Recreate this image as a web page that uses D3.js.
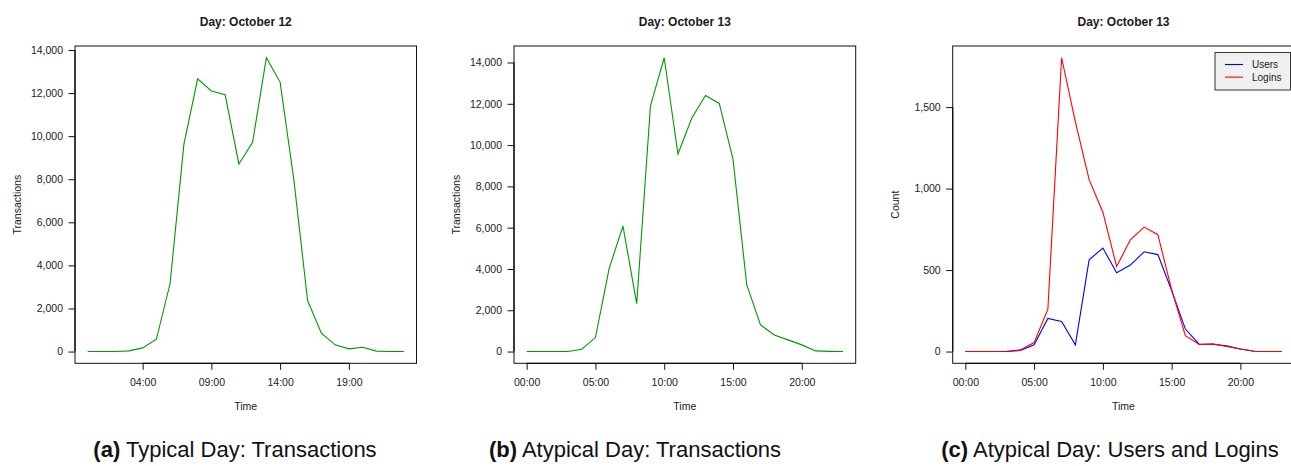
<!DOCTYPE html>
<html><head><meta charset="utf-8">
<script src="https://cdn.jsdelivr.net/npm/d3@7"></script>
<style>
body{margin:0;background:#fff;}
svg text{font-family:"Liberation Sans",Arial,sans-serif;fill:#1a1a1a;}
</style></head>
<body><svg id="c" width="1291" height="466"></svg>
<script>
// ---- data ----
const hours = d3.range(0, 24);
const txOct12 = [0,0,0,30,170,570,3170,9620,12660,12100,11920,8710,9720,13640,12510,7970,2370,850,310,125,200,20,0,0];
const txOct13 = [0,0,0,0,113,677,4030,6080,2320,11900,14230,9565,11300,12400,12016,9320,3230,1290,806,565,323,32,10,0];
const usersOct13 = [0,0,0,0,6,41,203,184,41,563,635,484,531,612,595,375,138,45,45,35,16,2,0,0];
const loginsOct13 = [0,0,0,2,10,55,260,1803,1410,1055,855,522,686,764,717,380,97,43,47,31,16,2,0,0];
const ticksA = [4,9,14,19];
const ticksBC = [0,5,10,15,20];
const yTicksTx = [0,2000,4000,6000,8000,10000,12000,14000];
const yTicksCount = [0,500,1000,1500];
const titles = ["Day: October 12","Day: October 13","Day: October 13"];
const yLabels = ["Transactions","Transactions","Count"];
const legendNames = ["Users","Logins"];
const captionTags = ["(a)","(b)","(c)"];
const captionTexts = [" Typical Day: Transactions"," Atypical Day: Transactions"," Atypical Day: Users and Logins"];

const svg = d3.select("#c");
const fmtH = h => d3.format("02d")(h) + ":00";
const fmtN = d3.format(",");
const plotTop = 46, plotBottom = 363.3;

const panels = [
  {left:75, right:416.5, xt:ticksA, yt:yTicksTx, series:[{v:txOct12,c:"#009a00"}]},
  {left:514, right:855.7, xt:ticksBC, yt:yTicksTx, series:[{v:txOct13,c:"#009a00"}]},
  {left:952.7, right:1294.3, xt:ticksBC, yt:yTicksCount, series:[{v:usersOct13,c:"#0000ff",n:legendNames[0]},{v:loginsOct13,c:"#ff0000",n:legendNames[1]}], legend:true}
];

panels.forEach((p,i)=>{
  const g = svg.append("g");
  const n = hours.length-1;
  const x = d3.scaleLinear().domain([-0.04*n, n+0.04*n]).range([p.left,p.right]);
  const all = p.series.flatMap(s=>s.v);
  const mn = d3.min(all), mx = d3.max(all), r = mx-mn;
  const y = d3.scaleLinear().domain([mn-0.04*r, mx+0.04*r]).range([plotBottom, plotTop]);

  p.series.forEach(s=>{
    g.append("path").datum(s.v)
      .attr("fill","none").attr("stroke",s.c).attr("stroke-width",1.1)
      .attr("d", d3.line().x((d,k)=>x(hours[k])).y(d=>y(d)));
  });

  g.append("rect").attr("x",p.left).attr("y",plotTop).attr("width",p.right-p.left).attr("height",plotBottom-plotTop)
    .attr("fill","none").attr("stroke","#111").attr("stroke-width",1);

  const ya = g.append("g").attr("transform",`translate(${p.left},0)`)
    .call(d3.axisLeft(y).tickValues(p.yt).tickFormat(fmtN).tickSize(6.5).tickPadding(5.5));
  ya.select(".domain").attr("d",`M0,${y(p.yt[0])}V${y(p.yt[p.yt.length-1])}`).attr("stroke","#111").attr("stroke-width",1.3);
  ya.selectAll("line").attr("stroke","#111");
  ya.selectAll("text").attr("font-size",10.5).attr("fill","#1a1a1a").style("font-family","Liberation Sans, Arial, sans-serif");

  const xa = g.append("g").attr("transform",`translate(0,${plotBottom})`)
    .call(d3.axisBottom(x).tickValues(p.xt).tickFormat(fmtH).tickSize(6.5).tickPadding(9));
  xa.select(".domain").attr("d",`M${x(p.xt[0])},0H${x(p.xt[p.xt.length-1])}`).attr("stroke","#111").attr("stroke-width",1.3);
  xa.selectAll("line").attr("stroke","#111");
  xa.selectAll("text").attr("font-size",10.5).attr("fill","#1a1a1a").style("font-family","Liberation Sans, Arial, sans-serif");

  const cx = (p.left + Math.min(p.right, p.left+341.6))/2;
  g.append("text").attr("x",cx).attr("y",26).attr("text-anchor","middle")
    .attr("font-size",12).attr("font-weight","bold").text(titles[i]);
  g.append("text").attr("x",cx).attr("y",410).attr("text-anchor","middle")
    .attr("font-size",10.5).text("Time");
  g.append("text").attr("transform",`translate(${p.left-54},${(plotTop+plotBottom)/2}) rotate(-90)`)
    .attr("text-anchor","middle").attr("font-size",10.5).text(yLabels[i]);

  if(p.legend){
    const lg = g.append("g");
    lg.append("rect").attr("x",1215).attr("y",52.5).attr("width",75.5).attr("height",37.5)
      .attr("fill","#f0f0f0").attr("stroke","#333").attr("stroke-width",1);
    p.series.forEach((s,k)=>{
      const ly = 64.5 + k*12.6;
      lg.append("line").attr("x1",1225).attr("x2",1243).attr("y1",ly).attr("y2",ly).attr("stroke",s.c).attr("stroke-width",1.1);
      lg.append("text").attr("x",1252).attr("y",ly).attr("dy","0.35em").attr("font-size",10).text(s.n);
    });
  }
});

const capCenters = [235, 635, 1110];
captionTags.forEach((t,i)=>{
  const tx = svg.append("text").attr("x",capCenters[i]).attr("y",457).attr("text-anchor","middle")
    .attr("font-size",22).style("font-family","'Liberation Sans', Arial, sans-serif").style("fill","#111");
  tx.append("tspan").attr("font-weight","bold").text(t);
  tx.append("tspan").text(captionTexts[i]);
});
</script></body></html>
